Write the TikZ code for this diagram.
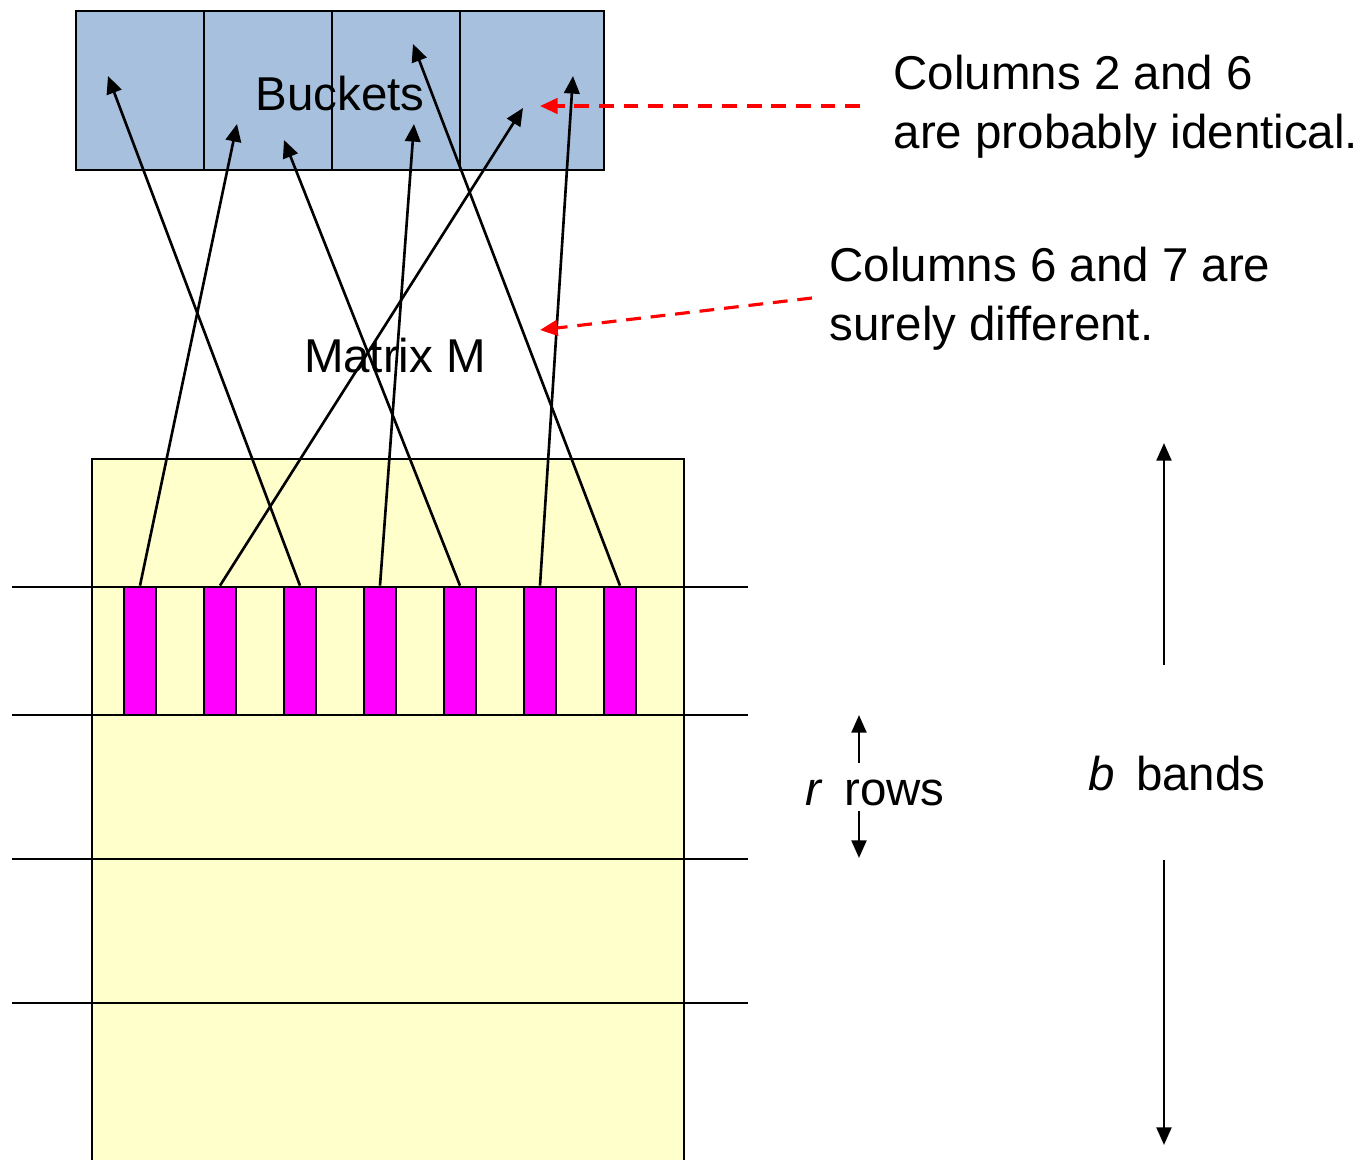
\documentclass[tikz,border=0pt]{standalone}
\usepackage{fontspec}
\setmainfont{Liberation Sans}
\usetikzlibrary{arrows.meta}
\definecolor{bucketblue}{HTML}{A7C0DD}
\definecolor{matrixyellow}{HTML}{FFFFCC}
\definecolor{barmagenta}{HTML}{FF00FF}
\begin{document}
\begin{tikzpicture}[x=0.01cm,y=-0.01cm,
  every node/.style={font=\fontsize{13.5}{16.5}\selectfont},
  edge/.style={line width=0.75pt},
  hash/.style={line width=0.75pt,-{Triangle[length=5pt,width=4.4pt]}},
  note/.style={red,line width=0.9pt,dash pattern=on 4.2pt off 2.8pt,-{Triangle[length=5pt,width=4.4pt]}},
  span/.style={line width=0.75pt,-{Triangle[length=5pt,width=4.2pt]}},
  colbar/.style={draw,line width=0.75pt,fill=barmagenta,minimum width=0.32cm,minimum height=1.28cm,inner sep=0pt},
  txt/.style={inner sep=0pt,anchor=base west,align=left}]
\useasboundingbox (0,0) rectangle (1365,1160);
\clip (0,0) rectangle (1365,1160);

% the matrix M, running off the bottom
\fill[matrixyellow] (92,459) rectangle (684,1200);
\draw[edge] (92,1200) -- (92,459) -- (684,459) -- (684,1200);

% band boundaries
\foreach \y in {587,715,859,1003}
  \draw[edge] (12,\y) -- (748,\y);

% the seven columns inside one band
\foreach \i/\x in {1/140,2/220,3/300,4/380,5/460,6/540,7/620}
  \node[colbar] (c\i) at (\x,651) {};

% the bucket array
\node[draw,line width=0.75pt,fill=bucketblue,minimum width=5.28cm,minimum height=1.59cm,inner sep=0pt] (bk) at (340,90.5) {};
\foreach \x in {204,332,460}
  \draw[edge] (\x,11) -- (\x,170);
\node[inner sep=0pt,anchor=base] (bklabel) at (340,110) {Buckets};
\node[inner sep=0pt,anchor=base] (mlabel) at (395,372) {Matrix M};

% hash targets inside the buckets
\coordinate (t1) at (237,124);
\coordinate (t2) at (523,108);
\coordinate (t3) at (108,76);
\coordinate (t4) at (414,124);
\coordinate (t5) at (284,140);
\coordinate (t6) at (573,76);
\coordinate (t7) at (413,44);
\foreach \i in {1,...,7}
  \draw[hash] (c\i.north) -- (t\i);

% annotations (anchored on the baseline of their last line)
\node[txt] (n1) at (893,148) {Columns 2 and 6\\are probably identical.};
\node[txt] (n2) at (829,340) {Columns 6 and 7 are\\surely different.};
\coordinate (n1s) at (860,106);
\coordinate (n1e) at (540,106);
\coordinate (n2s) at (812,298);
\coordinate (n2e) at (540,330);
\draw[note] (n1s) -- (n1e);
\draw[note] (n2s) -- (n2e);

% r rows
\node[txt] (rl) at (805,805) {\textit{r}\, rows};
\coordinate (ra) at (859,763);
\coordinate (rat) at (859,715);
\coordinate (rb) at (859,811);
\coordinate (rbt) at (859,858);
\draw[span] (ra) -- (rat);
\draw[span] (rb) -- (rbt);

% b bands
\node[txt] (bl) at (1088,790) {\textit{b}\, bands};
\coordinate (ba) at (1164,665);
\coordinate (bat) at (1164,443);
\coordinate (bb) at (1164,860);
\coordinate (bbt) at (1164,1145);
\draw[span] (ba) -- (bat);
\draw[span] (bb) -- (bbt);
\end{tikzpicture}
\end{document}
